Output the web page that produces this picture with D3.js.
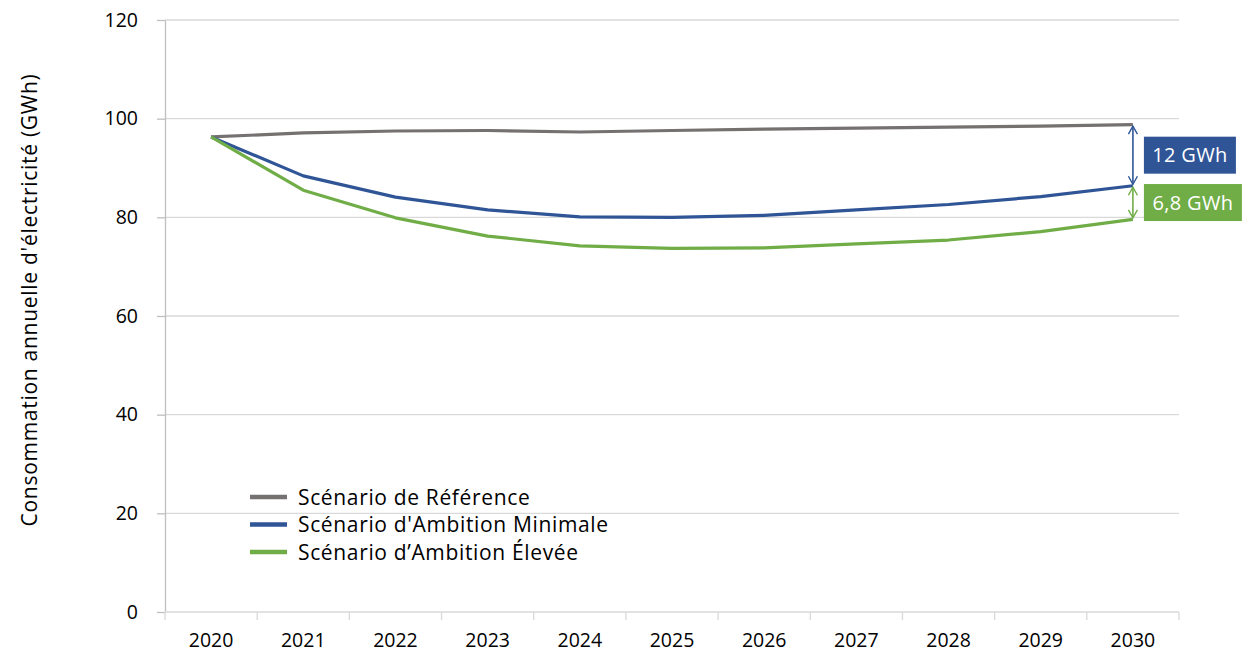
<!DOCTYPE html>
<html>
<head>
<meta charset="utf-8">
<script src="https://cdn.jsdelivr.net/npm/d3@7"></script>
<style>
  body { margin: 0; background: #fff; }
  svg { display: block; font-family: "Open Sans", "Noto Sans", sans-serif; }
</style>
</head>
<body>
<svg id="chart" width="1243" height="652"></svg>
<script>
const years = ['2020', '2021', '2022', '2023', '2024', '2025', '2026', '2027', '2028', '2029', '2030'];
const reference = [96.3, 97.1, 97.5, 97.6, 97.3, 97.6, 97.9, 98.1, 98.3, 98.5, 98.8];
const minimal = [96.3, 88.4, 84.1, 81.5, 80.1, 80.0, 80.4, 81.5, 82.6, 84.2, 86.4];
const high = [96.3, 85.5, 79.9, 76.2, 74.2, 73.7, 73.8, 74.6, 75.4, 77.1, 79.6];
const yTicks = [0, 20, 40, 60, 80, 100, 120];
const seriesNames = ['Scénario de Référence', "Scénario d'Ambition Minimale", 'Scénario d’Ambition Élevée'];
const gapLabels = ['12 GWh', '6,8 GWh'];

const colors = ['#767171', '#2f5597', '#70ad47'];
const series = [reference, minimal, high];
const fontSize = 19.5;

const margin = { top: 20, right: 64, bottom: 40, left: 165 };
const svg = d3.select('#chart');
const width = +svg.attr('width') - margin.left - margin.right;
const height = +svg.attr('height') - margin.top - margin.bottom;

const x = d3.scaleBand().domain(years).range([0, width]);
const y = d3.scaleLinear().domain([0, 120]).range([height, 0]);
const cx = (d) => x(d) + x.bandwidth() / 2;

const g = svg.append('g').attr('transform', `translate(${margin.left},${margin.top})`);

// gridlines
g.append('g')
	.selectAll('line')
	.data(yTicks.filter((t) => t > 0))
	.join('line')
	.attr('x1', 0)
	.attr('x2', width)
	.attr('y1', (d) => y(d))
	.attr('y2', (d) => y(d))
	.attr('stroke', '#d9d9d9')
	.attr('stroke-width', 1.3);

// y axis
const yAxis = g.append('g')
	.call(d3.axisLeft(y).tickValues(yTicks).tickSize(8).tickPadding(19).tickSizeOuter(0));
yAxis.select('.domain').attr('stroke', '#bfbfbf').attr('stroke-width', 1.3);
yAxis.selectAll('.tick line').attr('stroke', '#bfbfbf').attr('stroke-width', 1.3);
yAxis.selectAll('.tick text')
	.attr('font-size', fontSize)
	.attr('fill', '#000')
	.attr('font-family', '"Open Sans", sans-serif');

// x axis, ticks between categories
const xAxis = g.append('g').attr('transform', `translate(0,${height})`);
xAxis.append('line')
	.attr('x1', 0).attr('x2', width)
	.attr('stroke', '#d9d9d9').attr('stroke-width', 1.3);
xAxis.selectAll('line.tk')
	.data(years.concat(['end']))
	.join('line')
	.attr('class', 'tk')
	.attr('x1', (d, i) => i * x.bandwidth())
	.attr('x2', (d, i) => i * x.bandwidth())
	.attr('y1', 0).attr('y2', 8)
	.attr('stroke', '#d9d9d9').attr('stroke-width', 1.3);
xAxis.selectAll('text')
	.data(years)
	.join('text')
	.attr('x', cx)
	.attr('y', 35)
	.attr('text-anchor', 'middle')
	.attr('font-size', fontSize)
	.text((d) => d);

// y title
svg.append('text')
	.attr('transform', 'translate(37,300) rotate(-90)')
	.attr('text-anchor', 'middle')
	.attr('font-size', 21)
	.attr('letter-spacing', 0.72)
	.text("Consommation annuelle d'électricité (GWh)");

// lines
const line = d3.line().x((d, i) => cx(years[i])).y((d) => y(d));
g.selectAll('path.series')
	.data(series)
	.join('path')
	.attr('class', 'series')
	.attr('d', line)
	.attr('fill', 'none')
	.attr('stroke', (d, i) => colors[i])
	.attr('stroke-width', 3.2)
	.attr('stroke-linejoin', 'round');

// gap arrows at 2030
const last = years.length - 1;
const ax = cx(years[last]);
const gaps = [
	{ from: reference[last], to: minimal[last], color: colors[1], label: gapLabels[0], w: 92 },
	{ from: minimal[last], to: high[last], color: colors[2], label: gapLabels[1], w: 98 }
];

function head(yy, dir) {
	return `M${ax - 4.5},${yy + dir * 8} L${ax},${yy} L${ax + 4.5},${yy + dir * 8}`;
}

const arrows = g.selectAll('g.gap').data(gaps).join('g').attr('class', 'gap');
arrows.append('line')
	.attr('x1', ax).attr('x2', ax)
	.attr('y1', (d) => y(d.from) + 1.5)
	.attr('y2', (d) => y(d.to) - 1.5)
	.attr('stroke', (d) => d.color)
	.attr('stroke-width', 1.6);
arrows.append('path')
	.attr('d', (d) => head(y(d.from) + 1.5, 1) + head(y(d.to) - 1.5, -1))
	.attr('fill', 'none')
	.attr('stroke', (d) => d.color)
	.attr('stroke-width', 1.4);
arrows.append('rect')
	.attr('x', ax + 11)
	.attr('y', (d) => (y(d.from) + y(d.to)) / 2 - 18.5)
	.attr('width', (d) => d.w)
	.attr('height', 37)
	.attr('fill', (d) => d.color);
arrows.append('text')
	.attr('x', (d) => ax + 11 + d.w / 2)
	.attr('y', (d) => (y(d.from) + y(d.to)) / 2 + 7)
	.attr('text-anchor', 'middle')
	.attr('font-size', 20)
	.attr('letter-spacing', 0.3)
	.attr('fill', '#fff')
	.text((d) => d.label);

// legend
const legend = svg.append('g').attr('transform', 'translate(250,497)');
const items = legend.selectAll('g').data(seriesNames).join('g')
	.attr('transform', (d, i) => `translate(0,${i * 27.5})`);
items.append('line')
	.attr('x1', 0).attr('x2', 37)
	.attr('stroke', (d, i) => colors[i])
	.attr('stroke-width', 4.5);
items.append('text')
	.attr('x', 48)
	.attr('y', 7.5)
	.attr('font-size', 21)
	.attr('letter-spacing', 0.65)
	.text((d) => d);
</script>
</body>
</html>
